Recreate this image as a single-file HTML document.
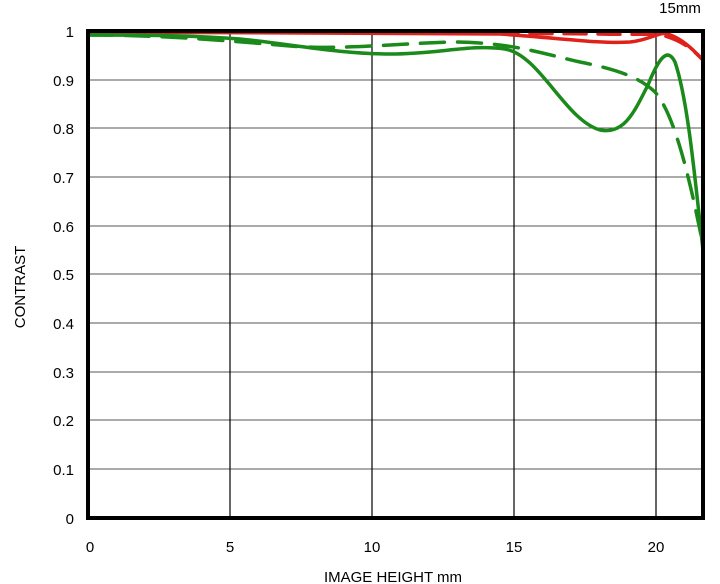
<!DOCTYPE html>
<html><head><style>
body{margin:0;background:#fff;}
svg{display:block;font-family:"Liberation Sans",sans-serif;}
</style></head><body>
<svg width="720" height="584" viewBox="0 0 720 584">
<g stroke="#555" stroke-width="1">
<line x1="88" y1="80" x2="703" y2="80"/><line x1="88" y1="128" x2="703" y2="128"/>
<line x1="88" y1="177" x2="703" y2="177"/><line x1="88" y1="226" x2="703" y2="226"/>
<line x1="88" y1="274" x2="703" y2="274"/><line x1="88" y1="323" x2="703" y2="323"/>
<line x1="88" y1="372" x2="703" y2="372"/><line x1="88" y1="420" x2="703" y2="420"/>
<line x1="88" y1="469" x2="703" y2="469"/>
</g>
<g stroke="#000" stroke-width="1.2">
<line x1="230" y1="31" x2="230" y2="518"/><line x1="372" y1="31" x2="372" y2="518"/>
<line x1="514" y1="31" x2="514" y2="518"/><line x1="656" y1="31" x2="656" y2="518"/>
</g>
<g fill="none" stroke-width="3.5" stroke-linecap="round">
<path stroke="#e0201a" d="M88,32 C250,32 400,33 500,34 C560,38 600,44 630,42 C650,40 660,31 668,34 C685,40 695,52 703,60"/>
<path stroke="#e0201a" stroke-dasharray="22,12" d="M88,32 C300,32 500,33 600,34 C640,35 655,33 665,36 C685,42 695,52 703,60"/>
<path stroke="#1a8a1a" d="M88,35 C160,35 200,36 240,39 C290,44 340,54 390,54 C440,54 470,44 505,49 C540,55 565,120 600,130 C625,135 635,110 648,85 C660,55 668,48 675,62 C688,100 695,180 703,250"/>
<path stroke="#1a8a1a" stroke-dasharray="24,13" d="M88,35 C160,35 220,40 290,46 C340,50 390,44 450,42 C510,42 540,53 580,62 C620,70 640,78 655,92 C675,115 690,180 703,245"/>
</g>
<path fill="none" stroke="#000" stroke-width="4" d="M88,31 H703 V518 H88 Z"/>
<g font-size="15" fill="#000" text-anchor="end">
<text x="74" y="37">1</text><text x="74" y="86">0.9</text><text x="74" y="134">0.8</text>
<text x="74" y="183">0.7</text><text x="74" y="232">0.6</text><text x="74" y="280">0.5</text>
<text x="74" y="329">0.4</text><text x="74" y="378">0.3</text><text x="74" y="426">0.2</text>
<text x="74" y="475">0.1</text><text x="74" y="524">0</text>
</g>
<g font-size="15" fill="#000" text-anchor="middle">
<text x="90" y="552">0</text><text x="230" y="552">5</text><text x="372" y="552">10</text>
<text x="514" y="552">15</text><text x="656" y="552">20</text>
<text x="393" y="582">IMAGE HEIGHT   mm</text>
<text x="680" y="13">15mm</text>
<text transform="translate(25,287) rotate(-90)">CONTRAST</text>
</g>
</svg>
</body></html>
